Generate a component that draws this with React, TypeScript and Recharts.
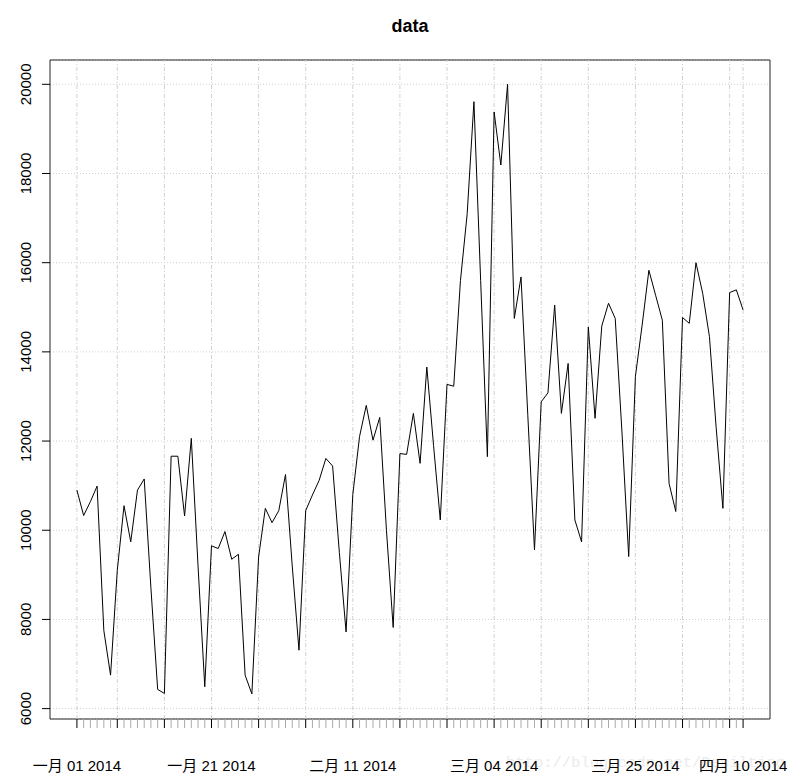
import React from 'react';
import { LineChart, Line, XAxis, YAxis, CartesianGrid, ReferenceLine, ReferenceArea } from 'recharts';

// Daily values, 2014-01-01 .. 2014-04-10 (100 days)
const values: number[] = [
  10900, 10330, 10640, 10990, 7750, 6750, 9100, 10550, 9740, 10900,
  11150, 8700, 6430, 6340, 11660, 11660, 10320, 12060, 9200, 6490,
  9650, 9590, 9970, 9350, 9460, 6750, 6330, 9400, 10490, 10170,
  10440, 11250, 9200, 7310, 10440, 10790, 11120, 11610, 11440, 9500,
  7720, 10800, 12100, 12800, 12020, 12530, 10000, 7820, 11720, 11700,
  12620, 11500, 13660, 11900, 10230, 13270, 13230, 15600, 17100, 19610,
  15600, 11650, 19380, 18190, 20000, 14750, 15680, 12600, 9560, 12880,
  13080, 15050, 12620, 13740, 10230, 9740, 14560, 12510, 14580, 15090,
  14750, 12200, 9410, 13450, 14600, 15830, 15270, 14710, 11050, 10420,
  14770, 14640, 16000, 15310, 14340, 12300, 10490, 15330, 15390, 14940,
];

// day index of each observation (0 = 2014-01-01)
const days: number[] = values.map((_, i) => i);

// weekly major ticks / grid lines (day index)
const gridDays: number[] = [0, 6, 13, 20, 27, 34, 41, 48, 55, 62, 69, 76, 83, 90, 97, 99];
// labelled ticks
const labelDays: number[] = [0, 20, 41, 62, 83, 99];
const labelTexts: string[] = ['一月 01 2014', '一月 21 2014', '二月 11 2014', '三月 04 2014', '三月 25 2014', '四月 10 2014'];
const yTicks: number[] = [6000, 8000, 10000, 12000, 14000, 16000, 18000, 20000];

const xDomain: [number, number] = [-4, 103];
const yDomain: [number, number] = [5767, 20545];

const data = days.map((d, i) => ({ day: d, value: values[i] }));

const FONT = "'Liberation Sans', Arial, 'Noto Sans CJK SC', sans-serif";

const XTick = (props: any) => {
  const { x, y, payload } = props;
  const d = payload.value;
  const major = gridDays.includes(d);
  const li = labelDays.indexOf(d);
  return (
    <g>
      <line x1={x} x2={x} y1={y} y2={y + 9} stroke={major ? '#000' : '#aaa'} strokeWidth={1} />
      {li >= 0 && (
        <text x={x} y={y + 52} textAnchor="middle" fontSize={15} fontFamily={FONT} fill="#000">
          {labelTexts[li]}
        </text>
      )}
    </g>
  );
};

const YTick = (props: any) => {
  const { x, y, payload } = props;
  const tx = x - 19;
  return (
    <g>
      <line x1={x - 8} x2={x} y1={y} y2={y} stroke="#000" strokeWidth={1} />
      <text
        x={tx}
        y={y}
        transform={`rotate(-90 ${tx} ${y})`}
        textAnchor="middle"
        fontSize={15}
        fontFamily={FONT}
        fill="#000"
      >
        {payload.value}
      </text>
    </g>
  );
};

export default function App() {
  return (
    <div style={{ position: 'absolute', left: 0, top: 0, width: 800, height: 777, background: '#fff' }}>
      <svg width={800} height={777} style={{ position: 'absolute', left: 0, top: 0 }}>
        <text x={410} y={32} textAnchor="middle" fontSize={18} fontWeight="bold" fontFamily={FONT} fill="#000">
          data
        </text>
        <text x={506} y={767} fontSize={15.5} fontFamily="'Liberation Mono', 'DejaVu Sans Mono', monospace" fill="#ebebeb">
          http://blog.csdn.net/Desilting
        </text>
      </svg>
      <div style={{ position: 'absolute', left: 0, top: 0 }}>
        <LineChart width={800} height={777} data={data} margin={{ top: 60, right: 30, bottom: 0, left: 0 }}>
          <CartesianGrid vertical={false} stroke="#d0d0d0" strokeDasharray="1 2" />
          {gridDays.map((d) => (
            <ReferenceLine key={d} x={d} stroke="#d0d0d0" strokeDasharray="4 2 1 2" />
          ))}
          <XAxis
            dataKey="day"
            type="number"
            domain={xDomain}
            allowDataOverflow
            ticks={days}
            interval={0}
            axisLine={false}
            tickLine={false}
            tickSize={0}
            tickMargin={0}
            height={58}
            tick={<XTick />}
          />
          <YAxis
            type="number"
            domain={yDomain}
            allowDataOverflow
            ticks={yTicks}
            interval={0}
            axisLine={false}
            tickLine={false}
            tickSize={0}
            tickMargin={0}
            width={50}
            tick={<YTick />}
          />
          <ReferenceArea
            x1={xDomain[0]}
            x2={xDomain[1]}
            y1={yDomain[0]}
            y2={yDomain[1]}
            fill="#fff"
            fillOpacity={0}
            stroke="#222"
            strokeWidth={1}
            strokeOpacity={1}
          />
          <Line
            type="linear"
            dataKey="value"
            stroke="#000"
            strokeWidth={1}
            dot={false}
            isAnimationActive={false}
          />
        </LineChart>
      </div>
    </div>
  );
}
